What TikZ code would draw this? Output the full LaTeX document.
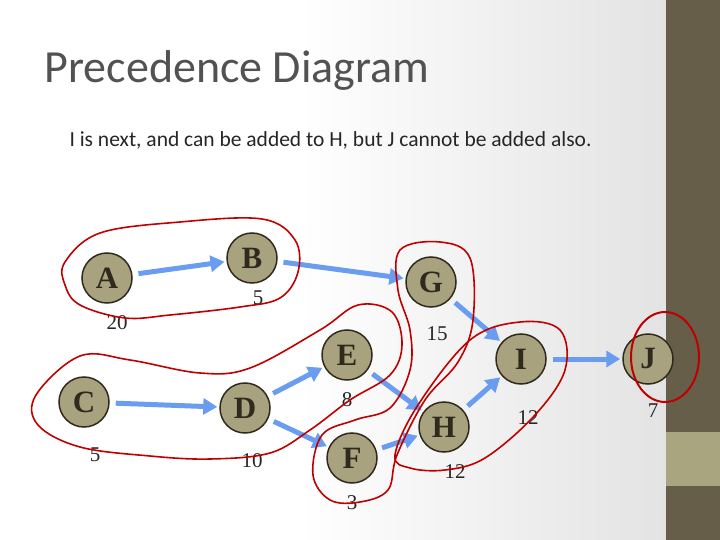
\documentclass[tikz,border=0pt]{standalone}
\usepackage{fontspec}
\setmainfont{Liberation Serif}
\newfontfamily\carlitofam{Carlito}
\usetikzlibrary{arrows.meta}
\definecolor{olive}{HTML}{665E48}
\definecolor{lolive}{HTML}{A9A57E}
\definecolor{nfill}{HTML}{A8A27F}
\definecolor{nbord}{HTML}{2F2A1D}
\definecolor{arr}{HTML}{6A9CF0}
\definecolor{loop}{HTML}{C00000}
\tikzset{
 act/.style={circle,fill=nfill,draw=nbord,line width=1.5pt,minimum size=50pt,inner sep=0pt,font=\fontsize{31}{31}\selectfont\bfseries,text=nbord},
 dur/.style={font=\fontsize{21}{21}\selectfont,text=black!85},
 con/.style={draw=arr,line width=5pt,-{Triangle[length=14pt,width=16pt]},shorten >=2pt,shorten <=6pt},
 grp/.style={draw=loop,line width=1.6pt}
}
\begin{document}
\begin{tikzpicture}[x=1pt,y=-1pt]
\useasboundingbox (0,0) rectangle (720,540);
\shade[left color=white,right color=black!11] (300,0) rectangle (666,540);
\fill[white] (0,0) rectangle (300,540);
\fill[olive] (666,0) rectangle (720,540);
\fill[lolive] (666,432) rectangle (720,486);
\node[anchor=west,font=\carlitofam\fontsize{46}{46}\selectfont,text=black!68] (title) at (41,70) {Precedence Diagram};
\node[anchor=west,font=\carlitofam\fontsize{21.5}{21.5}\selectfont,text=black!85] (sub) at (66,140) {I is next, and can be added to H, but J cannot be added also.};
\node[act] (A) at (107,278) {A};
\node[act] (B) at (252,258) {B};
\node[act] (C) at (84,402) {C};
\node[act] (D) at (245,408) {D};
\node[act] (E) at (347,355) {E};
\node[act] (F) at (352,458) {F};
\node[act] (G) at (431,282) {G};
\node[act] (H) at (444,427) {H};
\node[act] (I) at (521,359) {I};
\node[act] (J) at (648,359) {J};
\node[dur] (dA) at (117,323) {20};
\node[dur] (dB) at (258,298) {5};
\node[dur] (dC) at (95,455) {5};
\node[dur] (dD) at (252,461) {10};
\node[dur] (dE) at (347,400) {8};
\node[dur] (dF) at (352,503) {3};
\node[dur] (dG) at (437,334) {15};
\node[dur] (dH) at (455,472) {12};
\node[dur] (dI) at (528,418) {12};
\node[dur] (dJ) at (653,411) {7};
\draw[con] (A) -- (B);
\draw[con] (B) -- (G);
\draw[con] (C) -- (D);
\draw[con] (D) -- (E);
\draw[con] (D) -- (F);
\draw[con] (E) -- (H);
\draw[con] (F) -- (H);
\draw[con] (G) -- (I);
\draw[con] (H) -- (I);
\draw[con] (I) -- (J);
\draw[grp] plot[smooth cycle,tension=0.6] coordinates {(65,262) (100,233) (180,222) (262,219) (295,240) (298,272) (280,298) (240,307) (170,315) (125,318) (80,305) (65,285)};
\draw[grp] plot[smooth cycle,tension=0.6] coordinates {(36,395) (80,356) (130,360) (200,373) (250,368) (320,330) (358,305) (392,312) (402,345) (390,375) (350,400) (310,430) (270,453) (210,459) (150,456) (80,447) (38,425)};
\draw[grp] plot[smooth cycle,tension=0.6] coordinates {(400,250) (440,242) (470,258) (473,320) (458,362) (425,400) (397,455) (388,490) (360,502) (330,500) (313,475) (322,435) (355,420) (390,408) (410,370) (410,330) (398,290)};
\draw[grp] plot[smooth cycle,tension=0.6] coordinates {(395,455) (418,405) (470,340) (520,322) (560,330) (565,370) (535,415) (485,458) (445,470) (410,468)};
\draw[grp,line width=2pt] (665,357) ellipse [x radius=34,y radius=45];
\end{tikzpicture}
\end{document}
